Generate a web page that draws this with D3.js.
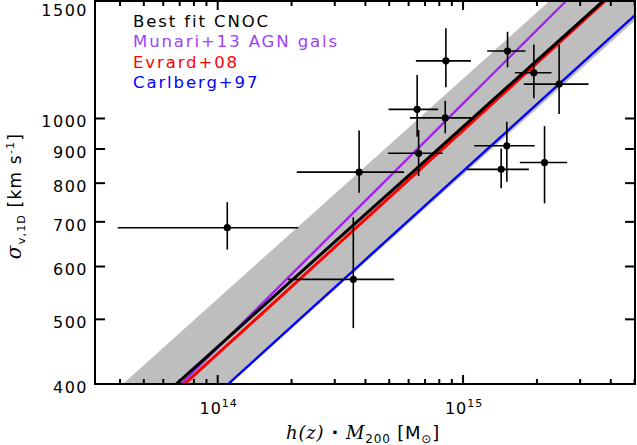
<!DOCTYPE html>
<html><head><meta charset="utf-8">
<script src="https://cdn.jsdelivr.net/npm/d3@7"></script>
<style>body{margin:0;background:#fff}svg{display:block}</style>
</head><body><svg id="c" width="637" height="445"></svg>
<script>
// ---- data ----
const clusterMass = [8.51e14, 1.518e15, 1.943e15, 2.463e15, 6.50e14, 8.46e14, 6.59e14, 1.508e15, 1.430e15, 2.148e15, 3.77e14, 1.094e14, 3.57e14];
const massLow     = [6.42e14, 1.254e15, 1.626e15, 1.769e15, 4.97e14, 6.07e14, 4.95e14, 1.110e15, 1.039e15, 1.703e15, 2.10e14, 3.915e13, 1.93e14];
const massHigh    = [1.076e15, 1.797e15, 2.294e15, 3.245e15, 7.92e14, 1.093e15, 8.25e14, 1.961e15, 1.854e15, 2.655e15, 5.75e14, 2.13e14, 5.24e14];
const sigmaV      = [1220, 1262, 1171, 1126, 1032, 1002, 887, 910, 839, 859, 831, 686, 574];
const sigmaLow    = [1114, 1193, 1072, 1016, 939, 950, 820, 804, 786, 746, 774, 636, 485];
const sigmaHigh   = [1365, 1349, 1291, 1291, 1162, 1063, 961, 989, 902, 974, 959, 749, 711];

const relNames  = ["Best fit CNOC", "Munari+13 AGN gals", "Evrard+08", "Carlberg+97"];
const relNorm   = [972, 1053, 960, 834];      // sigma at h(z)M200 = 1e15
const relSlope  = [0.330, 0.366, 0.335, 0.3335];
const relColors = ["#000000", "#a020f0", "#ff0000", "#0000ff"];
const relWidths = [3, 2.2, 3, 2.4];
const bandDex   = 0.072;                       // scatter band around best fit

const xMajorTicks = [1e14, 1e15];
const xMajorExp   = ["14", "15"];
const xMinorTicks = [4e13,5e13,6e13,7e13,8e13,9e13,2e14,3e14,4e14,5e14,6e14,7e14,8e14,9e14,2e15,3e15,4e15,5e15];
const yTicks      = [400, 500, 600, 700, 800, 900, 1000, 1500];

// ---- chart ----
const L = 95, R = 635, T = 1, B = 384;
const svg = d3.select("#c");
const x = d3.scaleLog().domain([Math.pow(10, 13.5), 5.02e15]).range([L, R]);
const y = d3.scaleLog().domain([400, 1500]).range([B, T]);

svg.append("defs").append("clipPath").attr("id", "pc")
  .append("rect").attr("x", L).attr("y", T).attr("width", R - L).attr("height", B - T);
const plot = svg.append("g").attr("clip-path", "url(#pc)");

const rel = (i, m) => relNorm[i] * Math.pow(m / 1e15, relSlope[i]);
const xs = x.domain();
const ms = d3.range(0, 11).map(k => Math.pow(10, Math.log10(xs[0]) + k * (Math.log10(xs[1]) - Math.log10(xs[0])) / 10));

// band
const f = Math.pow(10, bandDex);
const area = d3.area().x(m => x(m)).y0(m => y(rel(0, m) / f)).y1(m => y(rel(0, m) * f));
plot.append("path").datum(ms).attr("d", area).attr("fill", "#bebebe");

// relations
const line = d3.line();
[3, 2, 1, 0].forEach(i => {
  plot.append("path").datum(ms.map(m => [x(m), y(rel(i, m))]))
    .attr("d", line).attr("fill", "none")
    .attr("stroke", relColors[i]).attr("stroke-width", relWidths[i]);
});

// error bars + points
const idx = d3.range(clusterMass.length);
const eb = plot.append("g").attr("stroke", "#000").attr("stroke-width", 1.6);
idx.forEach(i => {
  eb.append("line").attr("x1", x(massLow[i])).attr("x2", x(massHigh[i]))
    .attr("y1", y(sigmaV[i])).attr("y2", y(sigmaV[i]));
  eb.append("line").attr("x1", x(clusterMass[i])).attr("x2", x(clusterMass[i]))
    .attr("y1", y(sigmaLow[i])).attr("y2", y(sigmaHigh[i]));
});
plot.append("g").selectAll("circle").data(idx).join("circle")
  .attr("cx", i => x(clusterMass[i])).attr("cy", i => y(sigmaV[i])).attr("r", 3.6).attr("fill", "#000");

// frame & ticks
const ax = svg.append("g").attr("stroke", "#000").attr("stroke-width", 2);
ax.append("rect").attr("x", L).attr("y", T).attr("width", R - L).attr("height", B - T).attr("fill", "none");
xMinorTicks.forEach(t => {
  ax.append("line").attr("x1", x(t)).attr("x2", x(t)).attr("y1", B).attr("y2", B - 5);
  ax.append("line").attr("x1", x(t)).attr("x2", x(t)).attr("y1", T).attr("y2", T + 5);
});
xMajorTicks.forEach(t => {
  ax.append("line").attr("x1", x(t)).attr("x2", x(t)).attr("y1", B).attr("y2", B - 9);
  ax.append("line").attr("x1", x(t)).attr("x2", x(t)).attr("y1", T).attr("y2", T + 9);
});
yTicks.forEach(t => {
  ax.append("line").attr("x1", L).attr("x2", L + 10).attr("y1", y(t)).attr("y2", y(t));
  ax.append("line").attr("x1", R).attr("x2", R - 10).attr("y1", y(t)).attr("y2", y(t));
});

const font = "DejaVu Sans";
// y tick labels
svg.append("g").selectAll("text").data(yTicks).join("text")
  .attr("x", 88).attr("y", d => Math.max(y(d) + 8.8, 15.5)).attr("text-anchor", "end")
  .attr("font-family", font).attr("font-size", 16).attr("letter-spacing", 1.5)
  .text(d => d);
// x tick labels
xMajorTicks.forEach((t, k) => {
  const g = svg.append("text").attr("x", x(t) + 1).attr("y", 413.5).attr("text-anchor", "middle")
    .attr("font-family", font).attr("font-size", 16).attr("letter-spacing", 1);
  g.append("tspan").text("10");
  g.append("tspan").attr("dy", -7).attr("font-size", 11).text(xMajorExp[k]);
});

// x title
const xt = svg.append("text").attr("x", 363).attr("y", 439).attr("text-anchor", "middle")
  .attr("font-size", 18).attr("font-family", font).attr("letter-spacing", 0.8);
xt.append("tspan").attr("font-family", "DejaVu Serif").attr("font-style", "italic").text("h(z)");
xt.append("tspan").attr("font-weight", "bold").text(" · ");
xt.append("tspan").attr("font-family", "DejaVu Serif").attr("font-style", "italic").text("M");
xt.append("tspan").attr("font-size", 12).attr("dy", 4).text("200");
xt.append("tspan").attr("dy", -4).text("  [M");
xt.append("tspan").attr("font-size", 12).attr("dy", 4).text("⊙");
xt.append("tspan").attr("dy", -4).text("]");

// y title
const yt = svg.append("text").attr("transform", "translate(21,196) rotate(-90)").attr("text-anchor", "middle")
  .attr("font-size", 17).attr("font-family", font).attr("letter-spacing", 1.2);
yt.append("tspan").attr("font-family", "DejaVu Serif").attr("font-style", "italic").attr("font-size", 20).text("σ");
yt.append("tspan").attr("font-size", 11).attr("dy", 4).text("v,1D");
yt.append("tspan").attr("dy", -4).text("  [km s");
yt.append("tspan").attr("font-size", 11).attr("dy", -7).text("-1");
yt.append("tspan").attr("dy", 7).text("]");

// legend
const legendColors = ["#000000", "#a040ff", "#ff0000", "#0000ff"];
svg.append("g").selectAll("text").data(relNames).join("text")
  .attr("x", 133).attr("y", (d, i) => 27.3 + i * 20.1)
  .attr("font-family", font).attr("font-size", 16.5).attr("letter-spacing", 1.9)
  .attr("fill", (d, i) => legendColors[i]).text(d => d);
</script></body></html>
